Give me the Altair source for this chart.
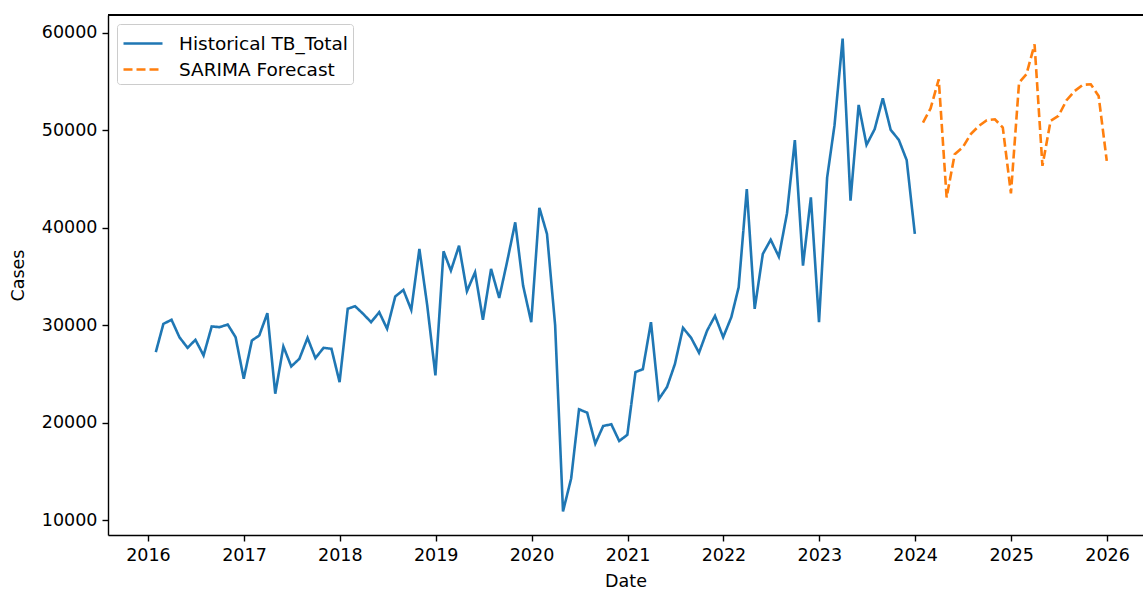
import altair as alt
import pandas as pd

# Monthly TB case totals, Jan 2016 - Dec 2023 (month-end dates)
hist_dates = pd.date_range("2016-01-31", periods=96, freq="ME").strftime("%Y-%m-%d").tolist()
hist_cases = [
    27230, 30140, 30550, 28770, 27680, 28500, 26900, 29870, 29800, 30070, 28770, 24510,  # 2016
    28430, 28940, 31230, 22970, 27820, 25770, 26560, 28700, 26620, 27680, 27580, 24160,  # 2017
    31680, 31950, 31160, 30310, 31330, 29630, 32940, 33620, 31570, 37820, 32000, 24850,  # 2018
    37580, 35600, 38160, 33480, 35430, 30550, 35770, 32800, 36500, 40550, 34060, 30310,  # 2019
    42050, 39360, 30000, 10900, 14270, 21370, 21030, 17850, 19660, 19830, 18120, 18750,  # 2020
    25190, 25480, 30310, 22420, 23650, 26000, 29730, 28700, 27170, 29460, 30950, 28770,  # 2021
    30820, 33890, 43970, 31680, 37310, 38770, 37030, 41470, 48980, 36110, 43110, 30310,  # 2022
    45160, 50500, 59400, 42770, 52600, 48500, 50110, 53280, 50040, 49010, 46930, 39360,  # 2023
]

# SARIMA forecast, Jan 2024 - Dec 2025
fc_dates = pd.date_range("2024-01-31", periods=24, freq="ME").strftime("%Y-%m-%d").tolist()
fc_cases = [
    50790, 52240, 55230, 43110, 47550, 48230, 49600, 50450, 51030, 51130, 50280, 43520,  # 2024
    54880, 55740, 58810, 46350, 50960, 51470, 53080, 54030, 54650, 54720, 53520, 46860,  # 2025
]

series_names = ["Historical TB_Total", "SARIMA Forecast"]
series_colors = ["#1f77b4", "#ff7f0e"]
year_ticks = list(range(2016, 2027))

df = pd.concat([
    pd.DataFrame({"Date": hist_dates, "Cases": hist_cases, "Series": series_names[0]}),
    pd.DataFrame({"Date": fc_dates, "Cases": fc_cases, "Series": series_names[1]}),
])

# y range with a 5% margin around the data, like matplotlib's autoscale
all_cases = hist_cases + fc_cases
span = max(all_cases) - min(all_cases)
y_domain = [min(all_cases) - 0.05 * span, max(all_cases) + 0.05 * span]

W, H = 1035, 520
FONT = "DejaVu Sans"
FS = 17.5

x_enc = alt.X(
    "Date:T",
    title="Date",
    scale=alt.Scale(
        type="utc",
        domain=[alt.DateTime(year=2015, month=8, date=2, utc=True),
                alt.DateTime(year=2026, month=5, date=18, utc=True)],
    ),
    axis=alt.Axis(
        values=[alt.DateTime(year=y, month=1, date=1, utc=True) for y in year_ticks],
        format="%Y",
        grid=False,
    ),
)
y_enc = alt.Y(
    "Cases:Q",
    title="Cases",
    scale=alt.Scale(domain=y_domain, nice=False, zero=False),
    axis=alt.Axis(values=[10000, 20000, 30000, 40000, 50000, 60000], format="d", grid=False),
)

lines = alt.Chart(df).mark_line(strokeWidth=2.6, clip=True).encode(
    x=x_enc,
    y=y_enc,
    color=alt.Color(
        "Series:N",
        scale=alt.Scale(domain=series_names, range=series_colors),
        legend=alt.Legend(title=None),
    ),
    strokeDash=alt.StrokeDash(
        "Series:N",
        scale=alt.Scale(domain=series_names, range=[[1, 0], [9, 4]]),
        legend=alt.Legend(title=None),
    ),
    detail="Series:N",
)

# top spine of the plot frame
top_spine = alt.Chart(df).mark_rule(color="black", strokeWidth=1.4).encode(
    x=alt.value(0), x2=alt.value(W), y=alt.value(0)
)

chart = (
    alt.layer(lines, top_spine)
    .properties(
        width=W,
        height=H,
        padding={"left": 108, "top": 15, "right": 0, "bottom": 57},
        autosize=alt.AutoSizeParams(type="none"),
        background="white",
    )
    .configure_view(stroke=None)
    .configure_axis(
        labelFont=FONT,
        titleFont=FONT,
        labelFontSize=FS,
        titleFontSize=FS,
        titleFontWeight="normal",
        labelColor="#000000",
        titleColor="#000000",
        domainColor="#000000",
        domainWidth=1.4,
        tickColor="#000000",
        tickWidth=1.4,
        tickSize=6,
        labelPadding=5,
    )
    .configure_axisX(titlePadding=9, labelFlush=False)
    .configure_axisY(titlePadding=14)
    .configure_legend(
        orient="top-left",
        offset=9,
        fillColor="white",
        strokeColor="#cccccc",
        cornerRadius=3,
        padding=5,
        labelFont=FONT,
        labelFontSize=18.5,
        labelColor="#000000",
        labelLimit=400,
        # long horizontal handle: a line 1.5x the nominal symbol width
        symbolType="M-1,0L2,0",
        symbolSize=676,
        symbolStrokeWidth=2.6,
        labelOffset=28,
        rowPadding=2,
    )
)

chart.save("out.html", embed_options={"renderer": "svg", "actions": False})
